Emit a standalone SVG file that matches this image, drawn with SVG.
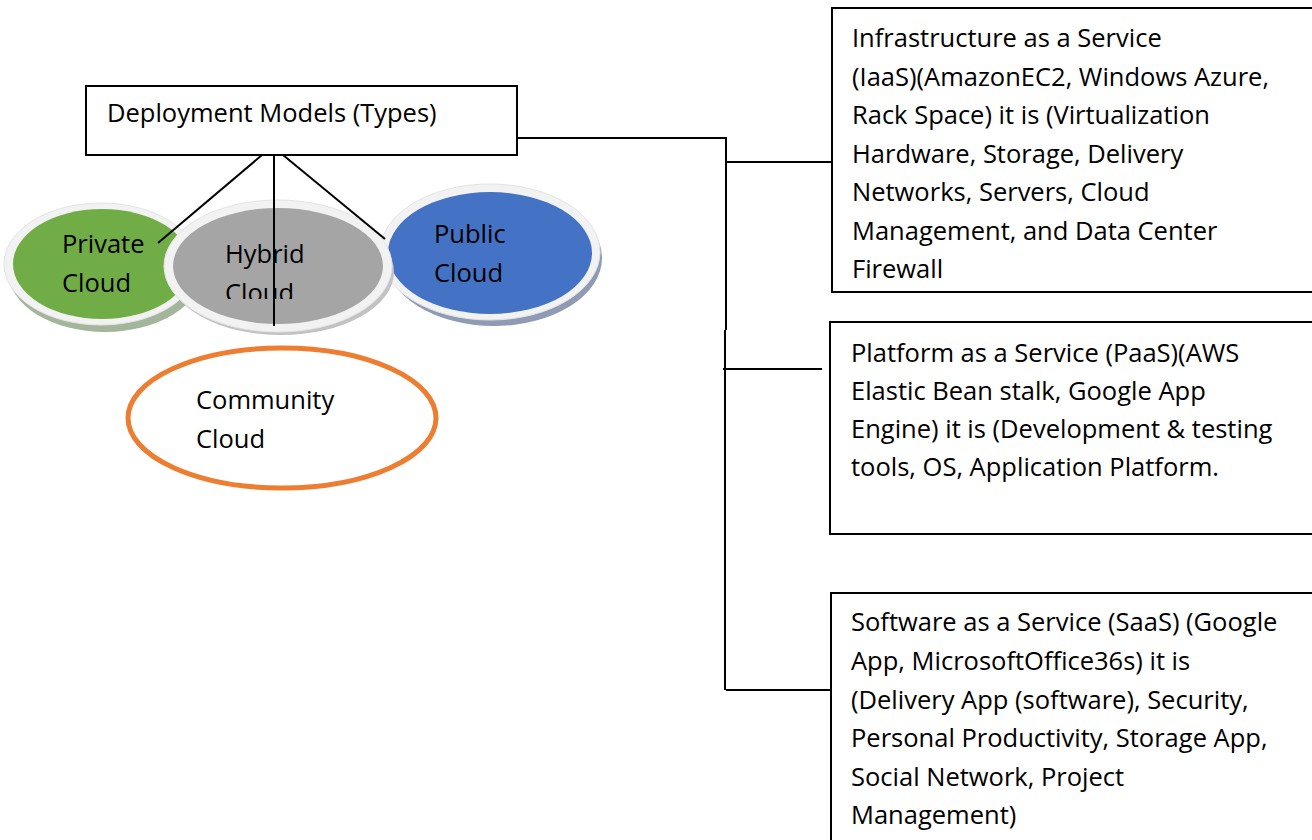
<svg xmlns="http://www.w3.org/2000/svg" width="1312" height="840" viewBox="0 0 1312 840">
<style>
text{font-family:"Open Sans","Noto Sans",sans-serif;font-size:25.5px;fill:#000}
.box{fill:#fff;stroke:#000;stroke-width:2}
.con{stroke:#000;stroke-width:2;fill:none}
.rim{fill:#f2f2f2;stroke:#e4e4e4;stroke-width:1}
</style>
<defs>
<clipPath id="hclip"><rect x="150" y="150" width="260" height="149"/></clipPath>
</defs>
<rect width="1312" height="840" fill="#fff"/>

<g id="deployment">
<rect class="box" x="86" y="86" width="431" height="69"/>
<text x="107" y="122">Deployment Models (Types)</text>
</g>

<g id="private">
<ellipse cx="105" cy="271" rx="97" ry="61" fill="#a3b59a"/>
<ellipse class="rim" cx="101" cy="264" rx="97" ry="61"/>
<ellipse cx="102" cy="264" rx="89" ry="55" fill="#70ad47"/>
<text x="62" y="253">Private</text>
<text x="62" y="292">Cloud</text>
</g>

<g id="public">
<ellipse cx="494" cy="258" rx="108" ry="68" fill="#8f9bb5"/>
<ellipse class="rim" cx="490" cy="252" rx="110" ry="68"/>
<ellipse cx="490" cy="253" rx="102" ry="61" fill="#4472c4"/>
<text x="434" y="243">Public</text>
<text x="434" y="282">Cloud</text>
</g>

<g id="hybrid">
<ellipse cx="281" cy="272" rx="113" ry="63" fill="#c2c2c2"/>
<ellipse class="rim" cx="278" cy="266" rx="114" ry="66"/>
<ellipse cx="278" cy="266" rx="105" ry="58" fill="#a5a5a5"/>
<g clip-path="url(#hclip)">
<text x="225" y="263">Hybrid</text>
<text x="225" y="302">Cloud</text>
</g>
</g>

<g id="community">
<ellipse cx="282" cy="418" rx="154" ry="70" fill="#fff" stroke="#ed7d31" stroke-width="5"/>
<text x="196" y="409">Community</text>
<text x="196" y="448">Cloud</text>
</g>

<g id="iaas">
<rect class="box" x="832" y="8" width="500" height="284"/>
<text x="852" y="47">Infrastructure as a Service</text>
<text x="852" y="86">(IaaS)(AmazonEC2, Windows Azure,</text>
<text x="852" y="124">Rack Space) it is (Virtualization</text>
<text x="852" y="163">Hardware, Storage, Delivery</text>
<text x="852" y="201">Networks, Servers, Cloud</text>
<text x="852" y="240">Management, and Data Center</text>
<text x="852" y="278">Firewall</text>
</g>

<g id="paas">
<rect class="box" x="830" y="322" width="500" height="212"/>
<text x="851" y="362">Platform as a Service (PaaS)(AWS</text>
<text x="851" y="400">Elastic Bean stalk, Google App</text>
<text x="851" y="438">Engine) it is (Development &amp; testing</text>
<text x="851" y="476">tools, OS, Application Platform.</text>
</g>

<g id="saas">
<rect class="box" x="831" y="593" width="500" height="260"/>
<text x="851" y="631">Software as a Service (SaaS) (Google</text>
<text x="851" y="670">App, MicrosoftOffice36s) it is</text>
<text x="851" y="709">(Delivery App (software), Security,</text>
<text x="851" y="747">Personal Productivity, Storage App,</text>
<text x="851" y="786">Social Network, Project</text>
<text x="851" y="824">Management)</text>
</g>

<g id="connectors">
<line class="con" x1="262" y1="155" x2="158" y2="243"/>
<line class="con" x1="274" y1="155" x2="274" y2="326"/>
<line class="con" x1="283" y1="155" x2="385" y2="239"/>
<polyline class="con" points="517,138 726,138 726,330"/>
<line class="con" x1="726" y1="162" x2="832" y2="162"/>
<line class="con" x1="725" y1="330" x2="725" y2="690"/>
<line class="con" x1="723" y1="369" x2="822" y2="369"/>
<line class="con" x1="726" y1="690" x2="831" y2="690"/>
</g>
</svg>
